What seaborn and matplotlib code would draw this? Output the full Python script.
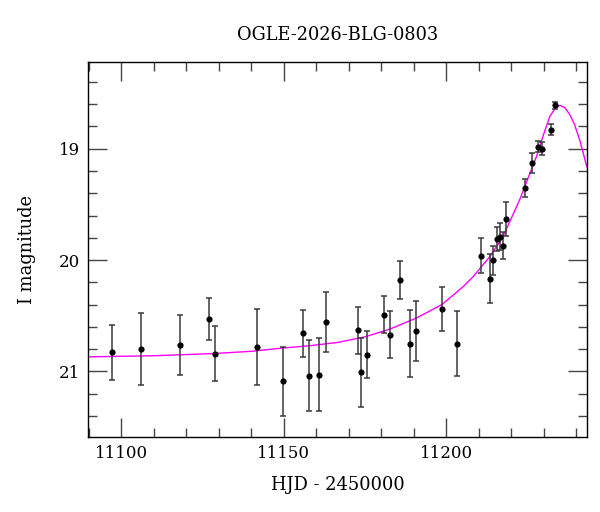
import numpy as np
import pandas as pd
import seaborn as sns
import matplotlib
matplotlib.use("Agg")
import matplotlib.pyplot as plt
from matplotlib.ticker import MultipleLocator

# photometry
hjd = [11097.1, 11106.1, 11118.0, 11126.9, 11128.9, 11141.8, 11149.8, 11155.8,
       11157.8, 11160.8, 11162.9, 11172.7, 11173.9, 11175.6, 11180.8, 11182.7,
       11185.7, 11188.8, 11190.6, 11198.7, 11203.4, 11210.6, 11213.4, 11214.4,
       11215.5, 11216.6, 11217.4, 11218.3, 11224.4, 11226.4, 11228.3, 11229.4,
       11232.3, 11233.4]
mag = [20.83, 20.80, 20.76, 20.53, 20.84, 20.78, 21.09, 20.66,
       21.04, 21.03, 20.56, 20.63, 21.01, 20.85, 20.49, 20.67,
       20.18, 20.75, 20.64, 20.44, 20.75, 19.96, 20.17, 20.00,
       19.81, 19.79, 19.87, 19.63, 19.35, 19.13, 18.98, 19.00,
       18.83, 18.61]
err = [0.25, 0.32, 0.27, 0.19, 0.25, 0.34, 0.31, 0.21,
       0.32, 0.33, 0.27, 0.21, 0.31, 0.21, 0.17, 0.21,
       0.17, 0.30, 0.27, 0.20, 0.29, 0.16, 0.22, 0.13,
       0.11, 0.12, 0.12, 0.15, 0.08, 0.09, 0.05, 0.06,
       0.05, 0.03]

# model curve
model_hjd = [11089.7, 11110.0, 11128.7, 11140.0, 11150.0, 11158.0, 11166.7,
             11175.0, 11182.7, 11190.9, 11198.7, 11205.2, 11208.3, 11213.4,
             11217.5, 11222.6, 11227.8, 11230.0, 11231.9, 11233.5, 11235.0,
             11236.5, 11238.0, 11239.5, 11241.1, 11243.4]
model_mag = [20.87, 20.86, 20.84, 20.82, 20.79, 20.77, 20.74,
             20.69, 20.62, 20.52, 20.40, 20.24, 20.15, 19.97,
             19.79, 19.46, 19.07, 18.87, 18.71, 18.64, 18.61,
             18.63, 18.69, 18.78, 18.92, 19.17]

obs = pd.DataFrame({"hjd": hjd, "mag": mag, "err": err})
model = pd.DataFrame({"hjd": model_hjd, "mag": model_mag})

sns.set_theme(style="ticks")
plt.rcParams["font.family"] = ["DejaVu Serif"]
plt.rcParams["text.color"] = "black"
plt.rcParams["axes.labelcolor"] = "black"
plt.rcParams["xtick.labelcolor"] = "black"
plt.rcParams["ytick.labelcolor"] = "black"

fig = plt.figure(figsize=(6, 5.12), dpi=100)
ax = fig.add_axes([0.1467, 0.1465, 0.8313, 0.7325])

sns.lineplot(data=model, x="hjd", y="mag", color="#ff00ff", linewidth=1.0,
             sort=False, estimator=None, ax=ax, zorder=2)
ax.errorbar(obs["hjd"], obs["mag"], yerr=obs["err"], fmt="none",
            ecolor="#3a3a3a", elinewidth=1.1, capsize=2.4, capthick=1.1, zorder=3)
sns.scatterplot(data=obs, x="hjd", y="mag", color="black", s=20,
                edgecolor="black", linewidth=0, ax=ax, zorder=4)

ax.set_xlim(11089.7, 11243.3)
ax.set_ylim(21.59, 18.22)

ax.xaxis.set_major_locator(MultipleLocator(50))
ax.xaxis.set_minor_locator(MultipleLocator(10))
ax.yaxis.set_major_locator(MultipleLocator(1))
ax.yaxis.set_minor_locator(MultipleLocator(0.2))
ax.tick_params(which="both", direction="in", top=True, right=True,
               color="#444444", width=1.0)
ax.tick_params(which="major", length=13.5, pad=6, labelsize=12)
ax.tick_params(which="minor", length=6.5)
for s in ax.spines.values():
    s.set_color("black")
    s.set_linewidth(1.0)

ax.set_xlabel("HJD - 2450000", fontsize=12.9, labelpad=10)
ax.set_ylabel("I magnitude", fontsize=12.9, labelpad=16)
ax.set_title("OGLE-2026-BLG-0803", fontsize=12.8, pad=16)

fig.savefig("out.png", dpi=100)
